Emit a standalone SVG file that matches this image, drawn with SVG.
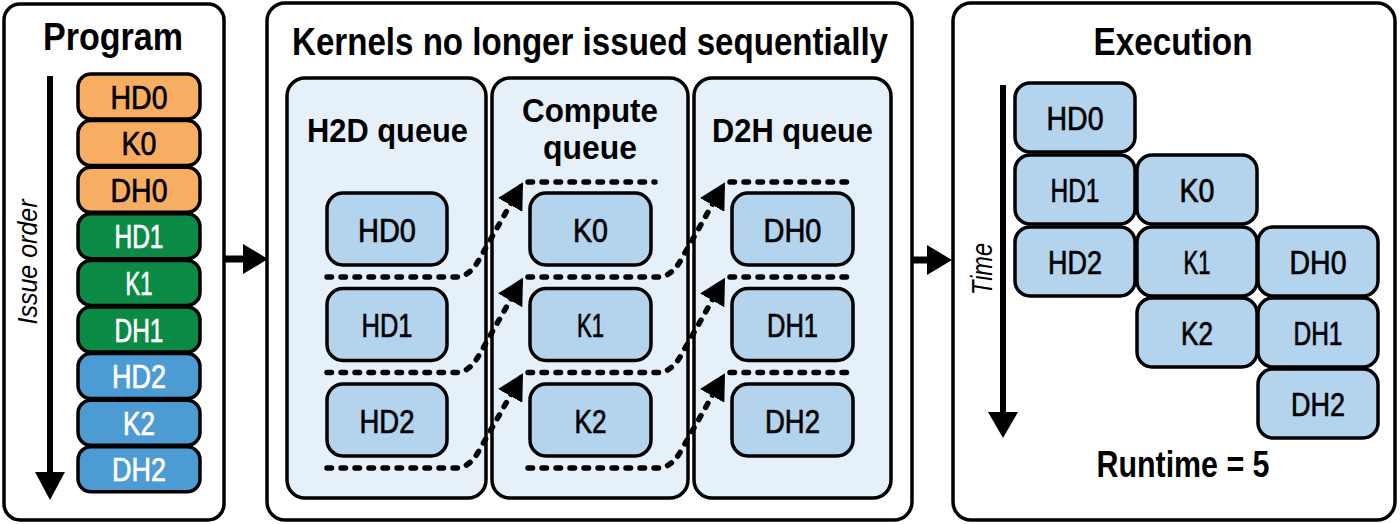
<svg xmlns="http://www.w3.org/2000/svg" width="1400" height="524" viewBox="0 0 1400 524">
<defs>
<style>
.panel{fill:#fff;stroke:#000;stroke-width:3.5}
.queue{fill:#E6F0F8;stroke:#000;stroke-width:3.5}
.box{fill:#B4D4EE;stroke:#000;stroke-width:3.5}
.orange{fill:#F8AE62;stroke:#000;stroke-width:3.5}
.green{fill:#0A8A45;stroke:#000;stroke-width:3.5}
.blue{fill:#4C9BD3;stroke:#000;stroke-width:3.5}
text{font-family:"Liberation Sans",Arial,sans-serif;text-anchor:middle;fill:#000}
.title{font-size:38px;font-weight:bold}
.qt{font-size:34px;font-weight:bold}
.lbl{font-size:33px;stroke:#000;stroke-width:0.7}
.wt{fill:#fff;stroke:#fff}
.ax{font-size:28px;font-style:italic}
.dot{fill:none;stroke:#000;stroke-width:5.5;stroke-dasharray:4.5 9.5;stroke-linecap:round}
.big{fill:none;stroke:#000;stroke-width:6}
</style>
<marker id="ah" viewBox="0 0 26 28" refX="24" refY="14" markerWidth="26" markerHeight="28" markerUnits="userSpaceOnUse" orient="auto">
<path d="M0,0 L26,14 L0,28 Z" fill="#000"/>
</marker>
</defs>

<g id="program">
<rect class="panel" x="4" y="4" width="220" height="516" rx="16"/>
<text class="title" x="113" y="50" textLength="140" lengthAdjust="spacingAndGlyphs">Program</text>
<text class="ax" transform="translate(37,262) rotate(-90)" x="0" y="0" textLength="125" lengthAdjust="spacingAndGlyphs">Issue order</text>
<line class="big" x1="50" y1="76" x2="50" y2="474"/>
<polygon points="35,472 65,472 50,500" fill="#000"/>
</g>
<g id="p-HD0"><rect class="orange" x="78" y="74" width="122" height="45" rx="13"/><text class="lbl" x="139" y="108.5" textLength="57" lengthAdjust="spacingAndGlyphs">HD0</text></g>
<g id="p-K0"><rect class="orange" x="78" y="120.6" width="122" height="45" rx="13"/><text class="lbl" x="139" y="155.1" textLength="35" lengthAdjust="spacingAndGlyphs">K0</text></g>
<g id="p-DH0"><rect class="orange" x="78" y="167.2" width="122" height="45" rx="13"/><text class="lbl" x="139" y="201.7" textLength="57" lengthAdjust="spacingAndGlyphs">DH0</text></g>
<g id="p-HD1"><rect class="green" x="78" y="213.8" width="122" height="45" rx="13"/><text class="lbl wt" x="139" y="248.3" textLength="49" lengthAdjust="spacingAndGlyphs">HD1</text></g>
<g id="p-K1"><rect class="green" x="78" y="260.4" width="122" height="45" rx="13"/><text class="lbl wt" x="139" y="294.9" textLength="27" lengthAdjust="spacingAndGlyphs">K1</text></g>
<g id="p-DH1"><rect class="green" x="78" y="307" width="122" height="45" rx="13"/><text class="lbl wt" x="139" y="341.5" textLength="49" lengthAdjust="spacingAndGlyphs">DH1</text></g>
<g id="p-HD2"><rect class="blue" x="78" y="353.6" width="122" height="45" rx="13"/><text class="lbl wt" x="139" y="388.1" textLength="54" lengthAdjust="spacingAndGlyphs">HD2</text></g>
<g id="p-K2"><rect class="blue" x="78" y="400.2" width="122" height="45" rx="13"/><text class="lbl wt" x="139" y="434.7" textLength="32" lengthAdjust="spacingAndGlyphs">K2</text></g>
<g id="p-DH2"><rect class="blue" x="78" y="446.8" width="122" height="45" rx="13"/><text class="lbl wt" x="139" y="481.3" textLength="54" lengthAdjust="spacingAndGlyphs">DH2</text></g>

<g id="queues">
<rect class="panel" x="267" y="3" width="645" height="517" rx="18"/>
<text class="title" x="590" y="55" textLength="596" lengthAdjust="spacingAndGlyphs">Kernels no longer issued sequentially</text>
</g>
<g id="h2d-queue">
<rect class="queue" x="287" y="78" width="199" height="420" rx="18"/>
<text class="qt" x="387.5" y="142" textLength="161" lengthAdjust="spacingAndGlyphs">H2D queue</text>
</g>
<g id="compute-queue">
<rect class="queue" x="492" y="78" width="196" height="420" rx="18"/>
<text class="qt" x="590" y="122" textLength="136" lengthAdjust="spacingAndGlyphs">Compute</text>
<text class="qt" x="590" y="159" textLength="94" lengthAdjust="spacingAndGlyphs">queue</text>
</g>
<g id="d2h-queue">
<rect class="queue" x="694" y="78" width="197" height="420" rx="18"/>
<text class="qt" x="792.5" y="142" textLength="161" lengthAdjust="spacingAndGlyphs">D2H queue</text>
</g>

<g id="q-HD0"><rect class="box" x="327" y="193" width="120" height="72" rx="16"/><text class="lbl" x="387" y="241.5" textLength="58" lengthAdjust="spacingAndGlyphs">HD0</text></g>
<g id="q-HD1"><rect class="box" x="327" y="288.5" width="120" height="72" rx="16"/><text class="lbl" x="387" y="337" textLength="51" lengthAdjust="spacingAndGlyphs">HD1</text></g>
<g id="q-HD2"><rect class="box" x="327" y="384" width="120" height="72" rx="16"/><text class="lbl" x="387" y="432.5" textLength="55" lengthAdjust="spacingAndGlyphs">HD2</text></g>
<g id="q-K0"><rect class="box" x="530" y="193" width="121" height="72" rx="16"/><text class="lbl" x="590.5" y="241.5" textLength="35" lengthAdjust="spacingAndGlyphs">K0</text></g>
<g id="q-K1"><rect class="box" x="530" y="288.5" width="121" height="72" rx="16"/><text class="lbl" x="590.5" y="337" textLength="27" lengthAdjust="spacingAndGlyphs">K1</text></g>
<g id="q-K2"><rect class="box" x="530" y="384" width="121" height="72" rx="16"/><text class="lbl" x="590.5" y="432.5" textLength="32" lengthAdjust="spacingAndGlyphs">K2</text></g>
<g id="q-DH0"><rect class="box" x="732" y="193" width="121" height="72" rx="16"/><text class="lbl" x="792.5" y="241.5" textLength="58" lengthAdjust="spacingAndGlyphs">DH0</text></g>
<g id="q-DH1"><rect class="box" x="732" y="288.5" width="121" height="72" rx="16"/><text class="lbl" x="792.5" y="337" textLength="51" lengthAdjust="spacingAndGlyphs">DH1</text></g>
<g id="q-DH2"><rect class="box" x="732" y="384" width="121" height="72" rx="16"/><text class="lbl" x="792.5" y="432.5" textLength="55" lengthAdjust="spacingAndGlyphs">DH2</text></g>

<g id="execution">
<rect class="panel" x="953" y="3" width="442" height="517" rx="18"/>
<text class="title" x="1173" y="55" textLength="159" lengthAdjust="spacingAndGlyphs">Execution</text>
<text class="ax" style="font-size:30px" transform="translate(992,269) rotate(-90)" x="0" y="0" textLength="52" lengthAdjust="spacingAndGlyphs">Time</text>
<line class="big" x1="1003" y1="85" x2="1003" y2="414"/>
<polygon points="988,412 1018,412 1003,438" fill="#000"/>
<text class="title" style="font-size:37px" x="1183" y="477" textLength="173" lengthAdjust="spacingAndGlyphs">Runtime = 5</text>
</g>
<g id="e-HD0"><rect class="box" x="1015" y="83" width="120" height="69" rx="15"/><text class="lbl" x="1075" y="130" textLength="57" lengthAdjust="spacingAndGlyphs">HD0</text></g>
<g id="e-HD1"><rect class="box" x="1015" y="155" width="120" height="69" rx="15"/><text class="lbl" x="1075" y="202" textLength="49" lengthAdjust="spacingAndGlyphs">HD1</text></g>
<g id="e-HD2"><rect class="box" x="1015" y="227" width="120" height="69" rx="15"/><text class="lbl" x="1075" y="274" textLength="54" lengthAdjust="spacingAndGlyphs">HD2</text></g>
<g id="e-K0"><rect class="box" x="1137" y="155" width="120" height="69" rx="15"/><text class="lbl" x="1197" y="202" textLength="35" lengthAdjust="spacingAndGlyphs">K0</text></g>
<g id="e-K1"><rect class="box" x="1137" y="227" width="120" height="69" rx="15"/><text class="lbl" x="1197" y="274" textLength="27" lengthAdjust="spacingAndGlyphs">K1</text></g>
<g id="e-K2"><rect class="box" x="1137" y="298" width="120" height="69" rx="15"/><text class="lbl" x="1197" y="345" textLength="32" lengthAdjust="spacingAndGlyphs">K2</text></g>
<g id="e-DH0"><rect class="box" x="1258" y="227" width="120" height="69" rx="15"/><text class="lbl" x="1318" y="274" textLength="57" lengthAdjust="spacingAndGlyphs">DH0</text></g>
<g id="e-DH1"><rect class="box" x="1258" y="298" width="120" height="69" rx="15"/><text class="lbl" x="1318" y="345" textLength="49" lengthAdjust="spacingAndGlyphs">DH1</text></g>
<g id="e-DH2"><rect class="box" x="1258" y="369" width="120" height="69" rx="15"/><text class="lbl" x="1318" y="416" textLength="54" lengthAdjust="spacingAndGlyphs">DH2</text></g>

<g id="connectors">
<line class="big" x1="224" y1="259" x2="245" y2="259" style="stroke-width:7"/>
<polygon points="243,244 268,259 243,274" fill="#000"/>
<line class="big" x1="912" y1="260" x2="929" y2="260" style="stroke-width:7"/>
<polygon points="927,245 952,260 927,275" fill="#000"/>

<path class="dot" d="M327,277 H456 Q470,277 480,258 L522,184" marker-end="url(#ah)"/>
<path class="dot" d="M327,372.5 H456 Q470,372.5 480,353.5 L522,279.5" marker-end="url(#ah)"/>
<path class="dot" d="M327,468 H456 Q470,468 480,449 L522,375" marker-end="url(#ah)"/>

<path class="dot" d="M528,182 H655"/>
<path class="dot" d="M528,277 H658 Q672,277 682,258 L724,184" marker-end="url(#ah)"/>
<path class="dot" d="M528,372.5 H658 Q672,372.5 682,353.5 L724,279.5" marker-end="url(#ah)"/>
<path class="dot" d="M528,468 H658 Q672,468 682,449 L724,375" marker-end="url(#ah)"/>

<path class="dot" d="M730,182 H856"/>
<path class="dot" d="M730,277 H856"/>
<path class="dot" d="M730,372.5 H856"/>
</g>
</svg>
